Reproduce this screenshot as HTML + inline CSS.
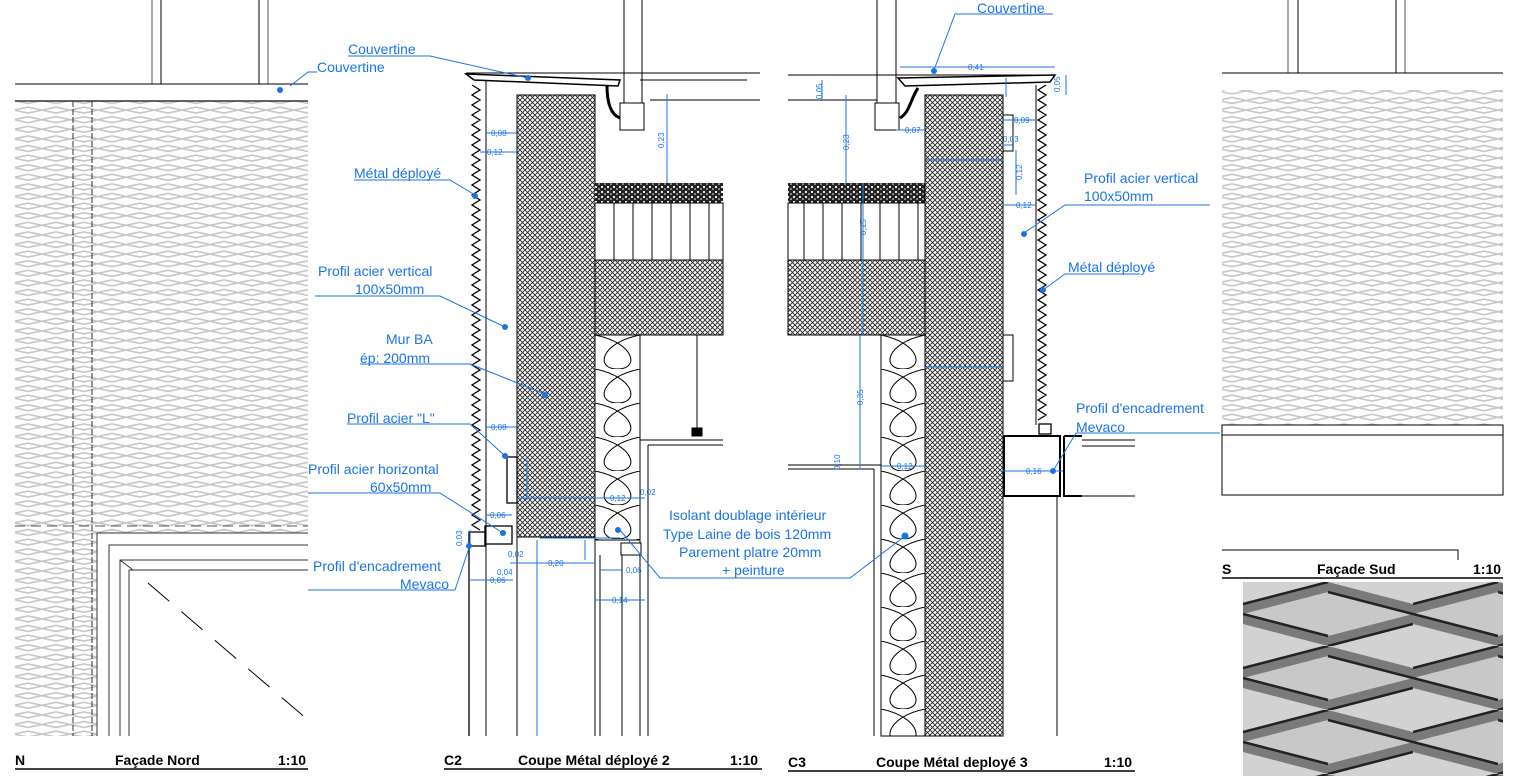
<!DOCTYPE html>
<html><head><meta charset="utf-8"><style>
html,body{margin:0;padding:0;background:#fff;}
svg{display:block;font-family:"Liberation Sans",sans-serif;}
.b{fill:#1a73e8;font-size:14px;}
.d{fill:#1a73e8;font-size:8px;}
.t{font-weight:bold;font-size:14px;fill:#000;}
.bl{stroke:#1a73e8;stroke-width:1;fill:none;}
</style></head><body>
<svg width="1516" height="776" viewBox="0 0 1516 776" xmlns="http://www.w3.org/2000/svg">
<defs>
<pattern id="mesh" width="56" height="9.6" patternUnits="userSpaceOnUse">
<path d="M0,1.5 L28,7.5 L56,1.5 M0,7.5 L28,1.5 L56,7.5" stroke="#c4c4c4" stroke-width="1.5" fill="none"/>
</pattern>
<pattern id="hatch" width="5" height="5" patternUnits="userSpaceOnUse">
<rect width="5" height="5" fill="#fff"/>
<path d="M0,0 L5,5 M5,0 L0,5" stroke="#222" stroke-width="0.9"/>
</pattern>
<pattern id="grav" width="6" height="5" patternUnits="userSpaceOnUse">
<rect width="6" height="5" fill="#222"/>
<circle cx="2" cy="2" r="1.1" fill="#fff"/><circle cx="5" cy="4" r="0.8" fill="#fff"/>
</pattern>
<pattern id="bub2" x="595" y="335" width="45" height="34" patternUnits="userSpaceOnUse">
<path d="M0,0 C40,8 45,34 22.5,34 C0,34 5,8 45,0" stroke="#000" fill="none" stroke-width="1"/>
</pattern>
<pattern id="bub3" x="881" y="335" width="44" height="34" patternUnits="userSpaceOnUse">
<path d="M0,0 C39,8 44,34 22,34 C0,34 5,8 44,0" stroke="#000" fill="none" stroke-width="1"/>
</pattern>
<pattern id="photo" x="1243" y="582" width="170" height="64" patternUnits="userSpaceOnUse">
<rect width="170" height="64" fill="#7a7a7a"/>
<path d="M0,32 L85,10 L170,32 L85,54Z" fill="#c8c8c8"/>
<path d="M-85,0 L0,-22 L85,0 L0,22Z M85,0 L170,-22 L255,0 L170,22Z M-85,64 L0,42 L85,64 L0,86Z M85,64 L170,42 L255,64 L170,86Z" fill="#d2d2d2"/>
<path d="M0,32 L85,54 M85,10 L170,32 M0,22 L85,0 M85,64 L170,42" stroke="#222" stroke-width="2.5"/>
</pattern>
</defs>

<!-- ===== Façade Nord ===== -->
<g stroke="#000" fill="none">
<line x1="152" y1="0" x2="152" y2="84" stroke="#555"/><line x1="161" y1="0" x2="161" y2="84"/>
<line x1="259" y1="0" x2="259" y2="84"/><line x1="268" y1="0" x2="268" y2="84" stroke="#555"/>
<line x1="15" y1="84" x2="308" y2="84"/>
</g>
<rect x="15" y="101" width="293" height="635" fill="url(#mesh)"/>
<line x1="15" y1="101" x2="308" y2="101" stroke="#333" stroke-width="1.5"/>
<rect x="97" y="533" width="211" height="203" fill="#fff"/>
<g stroke="#333" fill="none">
<line x1="73" y1="101" x2="73" y2="736" stroke-dasharray="6,2"/>
<line x1="92" y1="101" x2="92" y2="736" stroke-dasharray="6,2"/>
<line x1="15" y1="526" x2="308" y2="526" stroke-dasharray="10,6" stroke="#555"/>
<path d="M97,736 V533 H308"/><path d="M109,736 V545 H308"/>
<path d="M120,736 V560 H308"/><path d="M129,736 V570 H308"/>
<line x1="120" y1="560" x2="133" y2="570"/>
<line x1="148" y1="583" x2="308" y2="720" stroke="#000" stroke-dasharray="28,16"/>
</g>
<text x="15" y="765" class="t">N</text><text x="115" y="765" class="t">Façade Nord</text><text x="278" y="765" class="t">1:10</text>
<line x1="15" y1="769" x2="308" y2="769" stroke="#000" stroke-width="1.5"/>

<!-- ===== C2 ===== -->
<g stroke="#000" fill="none">
<line x1="466" y1="73" x2="760" y2="73"/><line x1="640" y1="80" x2="747" y2="80"/>
<line x1="650" y1="100" x2="760" y2="100"/>
<line x1="624" y1="0" x2="624" y2="103"/><line x1="642" y1="0" x2="642" y2="103"/>
<rect x="620" y="103" width="24" height="27"/>
<path d="M466,74 L620,80 L618,86 L474,80Z" stroke-width="1.5"/>
<path d="M607,86 C607,105 612,115 620,118" stroke-width="3"/>
<line x1="486" y1="80" x2="486" y2="736"/>
<line x1="517" y1="95" x2="517" y2="736"/>
<line x1="595" y1="540" x2="595" y2="736"/>
<line x1="600" y1="555" x2="600" y2="736"/>
<line x1="622" y1="555" x2="622" y2="736"/>
<line x1="640" y1="540" x2="640" y2="736"/>
<line x1="648" y1="445" x2="648" y2="736"/>
<line x1="640" y1="440" x2="723" y2="440"/><line x1="648" y1="445" x2="723" y2="445"/>
<line x1="697" y1="335" x2="697" y2="430"/><rect x="692" y="428" width="10" height="8" fill="#000"/>
</g>
<rect x="517" y="95" width="78" height="442" fill="url(#hatch)" stroke="#000"/>
<rect x="595" y="183" width="128" height="20" fill="url(#grav)"/>
<rect x="595" y="203" width="128" height="57" fill="#fff" stroke="#000"/>
<g stroke="#000"><line x1="614" y1="203" x2="614" y2="260"/><line x1="633" y1="203" x2="633" y2="260"/><line x1="652" y1="203" x2="652" y2="260"/><line x1="671" y1="203" x2="671" y2="260"/><line x1="690" y1="203" x2="690" y2="260"/><line x1="709" y1="203" x2="709" y2="260"/></g>
<rect x="595" y="260" width="128" height="75" fill="url(#hatch)" stroke="#000"/>
<rect x="595" y="335" width="45" height="205" fill="url(#bub2)" stroke="#000"/>
<rect x="621" y="543" width="20" height="12" fill="#fff" stroke="#000"/>
<polyline fill="none" stroke="#000" stroke-width="1.3" points="472,85 480,90 472,95 480,100 472,105 480,110 472,115 480,120 472,125 480,130 472,135 480,140 472,145 480,150 472,155 480,160 472,165 480,170 472,175 480,180 472,185 480,190 472,195 480,200 472,205 480,210 472,215 480,220 472,225 480,230 472,235 480,240 472,245 480,250 472,255 480,260 472,265 480,270 472,275 480,280 472,285 480,290 472,295 480,300 472,305 480,310 472,315 480,320 472,325 480,330 472,335 480,340 472,345 480,350 472,355 480,360 472,365 480,370 472,375 480,380 472,385 480,390 472,395 480,400 472,405 480,410 472,415 480,420 472,425 480,430 472,435 480,440 472,445 480,450 472,455 480,460 472,465 480,470 472,475 480,480 472,485 480,490 472,495 480,500 472,505 480,510 472,515 480,520 472,525 480,530"/>
<g stroke="#000" fill="none" stroke-width="1.3">
<rect x="507" y="457" width="10" height="46"/>
<rect x="485" y="526" width="27" height="18"/>
<rect x="469" y="532" width="16" height="14"/>
<line x1="469" y1="546" x2="469" y2="736"/>
</g>
<!-- C2 dims -->
<g class="bl">
<line x1="486" y1="133" x2="517" y2="133"/><line x1="480" y1="152" x2="517" y2="152"/>
<line x1="667" y1="94" x2="667" y2="183"/><line x1="486" y1="427" x2="517" y2="427"/>
<line x1="517" y1="498" x2="645" y2="498"/><line x1="527" y1="460" x2="527" y2="500"/>
<line x1="486" y1="515" x2="512" y2="515"/><line x1="470" y1="530" x2="470" y2="546"/>
<line x1="540" y1="538" x2="620" y2="538"/><line x1="510" y1="563" x2="595" y2="563"/>
<line x1="537" y1="540" x2="537" y2="736"/><line x1="585" y1="540" x2="585" y2="560"/>
<line x1="600" y1="570" x2="622" y2="570"/><line x1="595" y1="600" x2="645" y2="600"/>
<line x1="469" y1="580" x2="513" y2="580"/>
</g>
<g class="d">
<text x="491" y="136">0,08</text><text x="487" y="155">0,12</text>
<text x="664" y="148" transform="rotate(-90 664 148)">0,23</text>
<text x="491" y="430">0,08</text><text x="610" y="501">0,12</text>
<text x="490" y="518">0,06</text><text x="462" y="546" transform="rotate(-90 462 546)">0,03</text>
<text x="548" y="566">0,20</text><text x="508" y="557">0,02</text>
<text x="497" y="575">0,04</text><text x="490" y="583">0,06</text>
<text x="626" y="573">0,06</text><text x="612" y="603">0,14</text>
<text x="640" y="495">0,02</text>
</g>
<text x="444" y="765" class="t">C2</text><text x="518" y="765" class="t">Coupe Métal déployé 2</text><text x="730" y="765" class="t">1:10</text>
<line x1="444" y1="769" x2="762" y2="769" stroke="#000" stroke-width="1.5"/>

<!-- ===== C3 ===== -->
<g stroke="#000" fill="none">
<line x1="788" y1="75" x2="1050" y2="75"/><line x1="788" y1="100" x2="877" y2="100"/>
<line x1="877" y1="0" x2="877" y2="103"/><line x1="896" y1="0" x2="896" y2="103"/>
<rect x="875" y="103" width="24" height="27"/>
<path d="M898,78 L1055,75 L1050,82 L905,86Z" stroke-width="1.5"/>
<path d="M918,88 C910,100 910,112 900,118" stroke-width="3"/>
<line x1="1036" y1="85" x2="1036" y2="425"/>
<line x1="1003" y1="95" x2="1003" y2="432"/>
<line x1="1003" y1="497" x2="1003" y2="736"/>
<line x1="1057" y1="497" x2="1057" y2="736"/>
<line x1="788" y1="465" x2="881" y2="465"/><line x1="788" y1="469" x2="874" y2="469"/>
<line x1="874" y1="469" x2="874" y2="736"/>
<rect x="1003" y="115" width="10" height="36"/><rect x="1003" y="335" width="10" height="46"/>
</g>
<rect x="788" y="183" width="137" height="20" fill="url(#grav)"/>
<rect x="788" y="203" width="137" height="57" fill="#fff" stroke="#000"/>
<g stroke="#000"><line x1="804" y1="203" x2="804" y2="260"/><line x1="823" y1="203" x2="823" y2="260"/><line x1="842" y1="203" x2="842" y2="260"/><line x1="861" y1="203" x2="861" y2="260"/><line x1="880" y1="203" x2="880" y2="260"/><line x1="899" y1="203" x2="899" y2="260"/><line x1="918" y1="203" x2="918" y2="260"/></g>
<rect x="788" y="260" width="137" height="75" fill="url(#hatch)" stroke="#000"/>
<rect x="925" y="95" width="78" height="641" fill="url(#hatch)" stroke="#000"/>
<rect x="881" y="335" width="44" height="401" fill="url(#bub3)" stroke="#000"/>
<polyline fill="none" stroke="#000" stroke-width="1.3" points="1046,85 1038,90 1046,95 1038,100 1046,105 1038,110 1046,115 1038,120 1046,125 1038,130 1046,135 1038,140 1046,145 1038,150 1046,155 1038,160 1046,165 1038,170 1046,175 1038,180 1046,185 1038,190 1046,195 1038,200 1046,205 1038,210 1046,215 1038,220 1046,225 1038,230 1046,235 1038,240 1046,245 1038,250 1046,255 1038,260 1046,265 1038,270 1046,275 1038,280 1046,285 1038,290 1046,295 1038,300 1046,305 1038,310 1046,315 1038,320 1046,325 1038,330 1046,335 1038,340 1046,345 1038,350 1046,355 1038,360 1046,365 1038,370 1046,375 1038,380 1046,385 1038,390 1046,395 1038,400 1046,405 1038,410 1046,415 1038,420"/>
<g stroke="#000" fill="none" stroke-width="2">
<rect x="1004" y="436" width="56" height="60"/>
<path d="M1064,436 V496 H1082 M1064,436 H1082"/>
<rect x="1039" y="424" width="12" height="10" stroke-width="1.3"/>
</g>
<g stroke="#000" fill="none"><line x1="1082" y1="440" x2="1135" y2="440"/><line x1="1082" y1="446" x2="1135" y2="446"/><line x1="1082" y1="496" x2="1135" y2="496"/></g>
<g class="bl">
<line x1="900" y1="67" x2="1055" y2="67"/><line x1="1066" y1="75" x2="1066" y2="95"/>
<line x1="822" y1="80" x2="822" y2="100"/><line x1="846" y1="95" x2="846" y2="183"/>
<line x1="896" y1="130" x2="925" y2="130"/><line x1="925" y1="160" x2="1003" y2="160"/>
<line x1="1003" y1="120" x2="1036" y2="120"/><line x1="1003" y1="145" x2="1013" y2="145"/>
<line x1="1003" y1="205" x2="1036" y2="205"/><line x1="1016" y1="150" x2="1016" y2="195"/>
<line x1="863" y1="183" x2="863" y2="335"/><line x1="860" y1="335" x2="860" y2="468"/>
<line x1="881" y1="466" x2="925" y2="466"/><line x1="925" y1="367" x2="1003" y2="367"/>
<line x1="1003" y1="471" x2="1063" y2="471"/><line x1="1006" y1="78" x2="1006" y2="97"/>
</g>
<g class="d">
<text x="968" y="70">0,41</text><text x="1060" y="92" transform="rotate(-90 1060 92)">0,05</text>
<text x="822" y="99" transform="rotate(-90 822 99)">0,05</text><text x="849" y="150" transform="rotate(-90 849 150)">0,23</text>
<text x="905" y="133">0,07</text><text x="1014" y="123">0,09</text><text x="1003" y="142">0,03</text>
<text x="1016" y="208">0,12</text><text x="1022" y="180" transform="rotate(-90 1022 180)">0,12</text>
<text x="866" y="235" transform="rotate(-90 866 235)">0,15</text><text x="863" y="405" transform="rotate(-90 863 405)">0,35</text>
<text x="897" y="469">0,12</text><text x="1026" y="474">0,16</text><text x="840" y="470" transform="rotate(-90 840 470)">0,10</text>
</g>
<text x="788" y="767" class="t">C3</text><text x="876" y="767" class="t">Coupe Métal deployé 3</text><text x="1104" y="767" class="t">1:10</text>
<line x1="788" y1="771" x2="1135" y2="771" stroke="#000" stroke-width="1.5"/>

<!-- ===== Façade Sud ===== -->
<g stroke="#000" fill="none">
<line x1="1288" y1="0" x2="1288" y2="73" stroke="#555"/><line x1="1298" y1="0" x2="1298" y2="73"/>
<line x1="1396" y1="0" x2="1396" y2="73"/><line x1="1405" y1="0" x2="1405" y2="73" stroke="#555"/>
<line x1="1222" y1="73" x2="1503" y2="73"/>
</g>
<rect x="1222" y="90" width="281" height="335" fill="url(#mesh)"/>
<rect x="1222" y="425" width="281" height="10" fill="#fff" stroke="#000"/>
<rect x="1222" y="435" width="281" height="60" fill="#fff" stroke="#000"/>
<path d="M1222,550 H1458 V560" stroke="#000" fill="none"/>
<text x="1222" y="574" class="t">S</text><text x="1317" y="574" class="t">Façade Sud</text><text x="1473" y="574" class="t">1:10</text>
<line x1="1222" y1="578" x2="1503" y2="578" stroke="#000" stroke-width="1.5"/>
<rect x="1243" y="582" width="260" height="194" fill="url(#photo)"/>

<!-- ===== Labels & leaders ===== -->
<g class="bl">
<path d="M348,56 H430 L528,78"/><circle cx="528" cy="78" r="2.5" fill="#1a73e8"/>
<path d="M317,72 H308 L290,86"/><circle cx="280" cy="90" r="2.5" fill="#1a73e8"/>
<path d="M354,180 H450 L475,195"/><circle cx="475" cy="196" r="2.5" fill="#1a73e8"/>
<path d="M315,296 H440 L505,327"/><circle cx="505" cy="327" r="2.5" fill="#1a73e8"/>
<path d="M360,364 H470 L545,394"/><circle cx="545" cy="395" r="2.5" fill="#1a73e8"/>
<path d="M347,424 H470 L505,456"/><circle cx="505" cy="456" r="2.5" fill="#1a73e8"/>
<path d="M308,493 H440 L503,533"/><circle cx="503" cy="533" r="2.5" fill="#1a73e8"/>
<path d="M308,590 H455 L470,545"/><circle cx="469" cy="546" r="2.5" fill="#1a73e8"/>
<path d="M620,530 L660,578 H850 L905,536"/><circle cx="905" cy="536" r="3" fill="#1a73e8"/>
<circle cx="618" cy="530" r="2.5" fill="#1a73e8"/>
<path d="M1053,14 H955 L934,70"/><circle cx="934" cy="71" r="2.5" fill="#1a73e8"/>
<path d="M1210,205 H1065 L1024,233"/><circle cx="1024" cy="234" r="2.5" fill="#1a73e8"/>
<path d="M1140,274 H1065 L1043,290"/><circle cx="1043" cy="290" r="2.5" fill="#1a73e8"/>
<path d="M1220,433 H1076 L1053,471"/><circle cx="1053" cy="471" r="2.5" fill="#1a73e8"/>
</g>
<g class="b">
<text x="348" y="54">Couvertine</text><text x="317" y="72">Couvertine</text>
<text x="354" y="178">Métal déployé</text>
<text x="318" y="276">Profil acier vertical</text><text x="355" y="294">100x50mm</text>
<text x="386" y="344">Mur BA</text><text x="360" y="363">ép: 200mm</text>
<text x="347" y="423">Profil acier "L"</text>
<text x="308" y="474">Profil acier horizontal</text><text x="370" y="492">60x50mm</text>
<text x="313" y="571">Profil d'encadrement</text><text x="400" y="589">Mevaco</text>
<text x="669" y="520">Isolant doublage intérieur</text><text x="663" y="539">Type Laine de bois 120mm</text>
<text x="679" y="557">Parement platre 20mm</text><text x="722" y="575">+ peinture</text>
<text x="977" y="13">Couvertine</text>
<text x="1084" y="183">Profil acier vertical</text><text x="1084" y="201">100x50mm</text>
<text x="1068" y="272">Métal déployé</text>
<text x="1076" y="413">Profil d'encadrement</text><text x="1076" y="432">Mevaco</text>
</g>
</svg>
</body></html>
